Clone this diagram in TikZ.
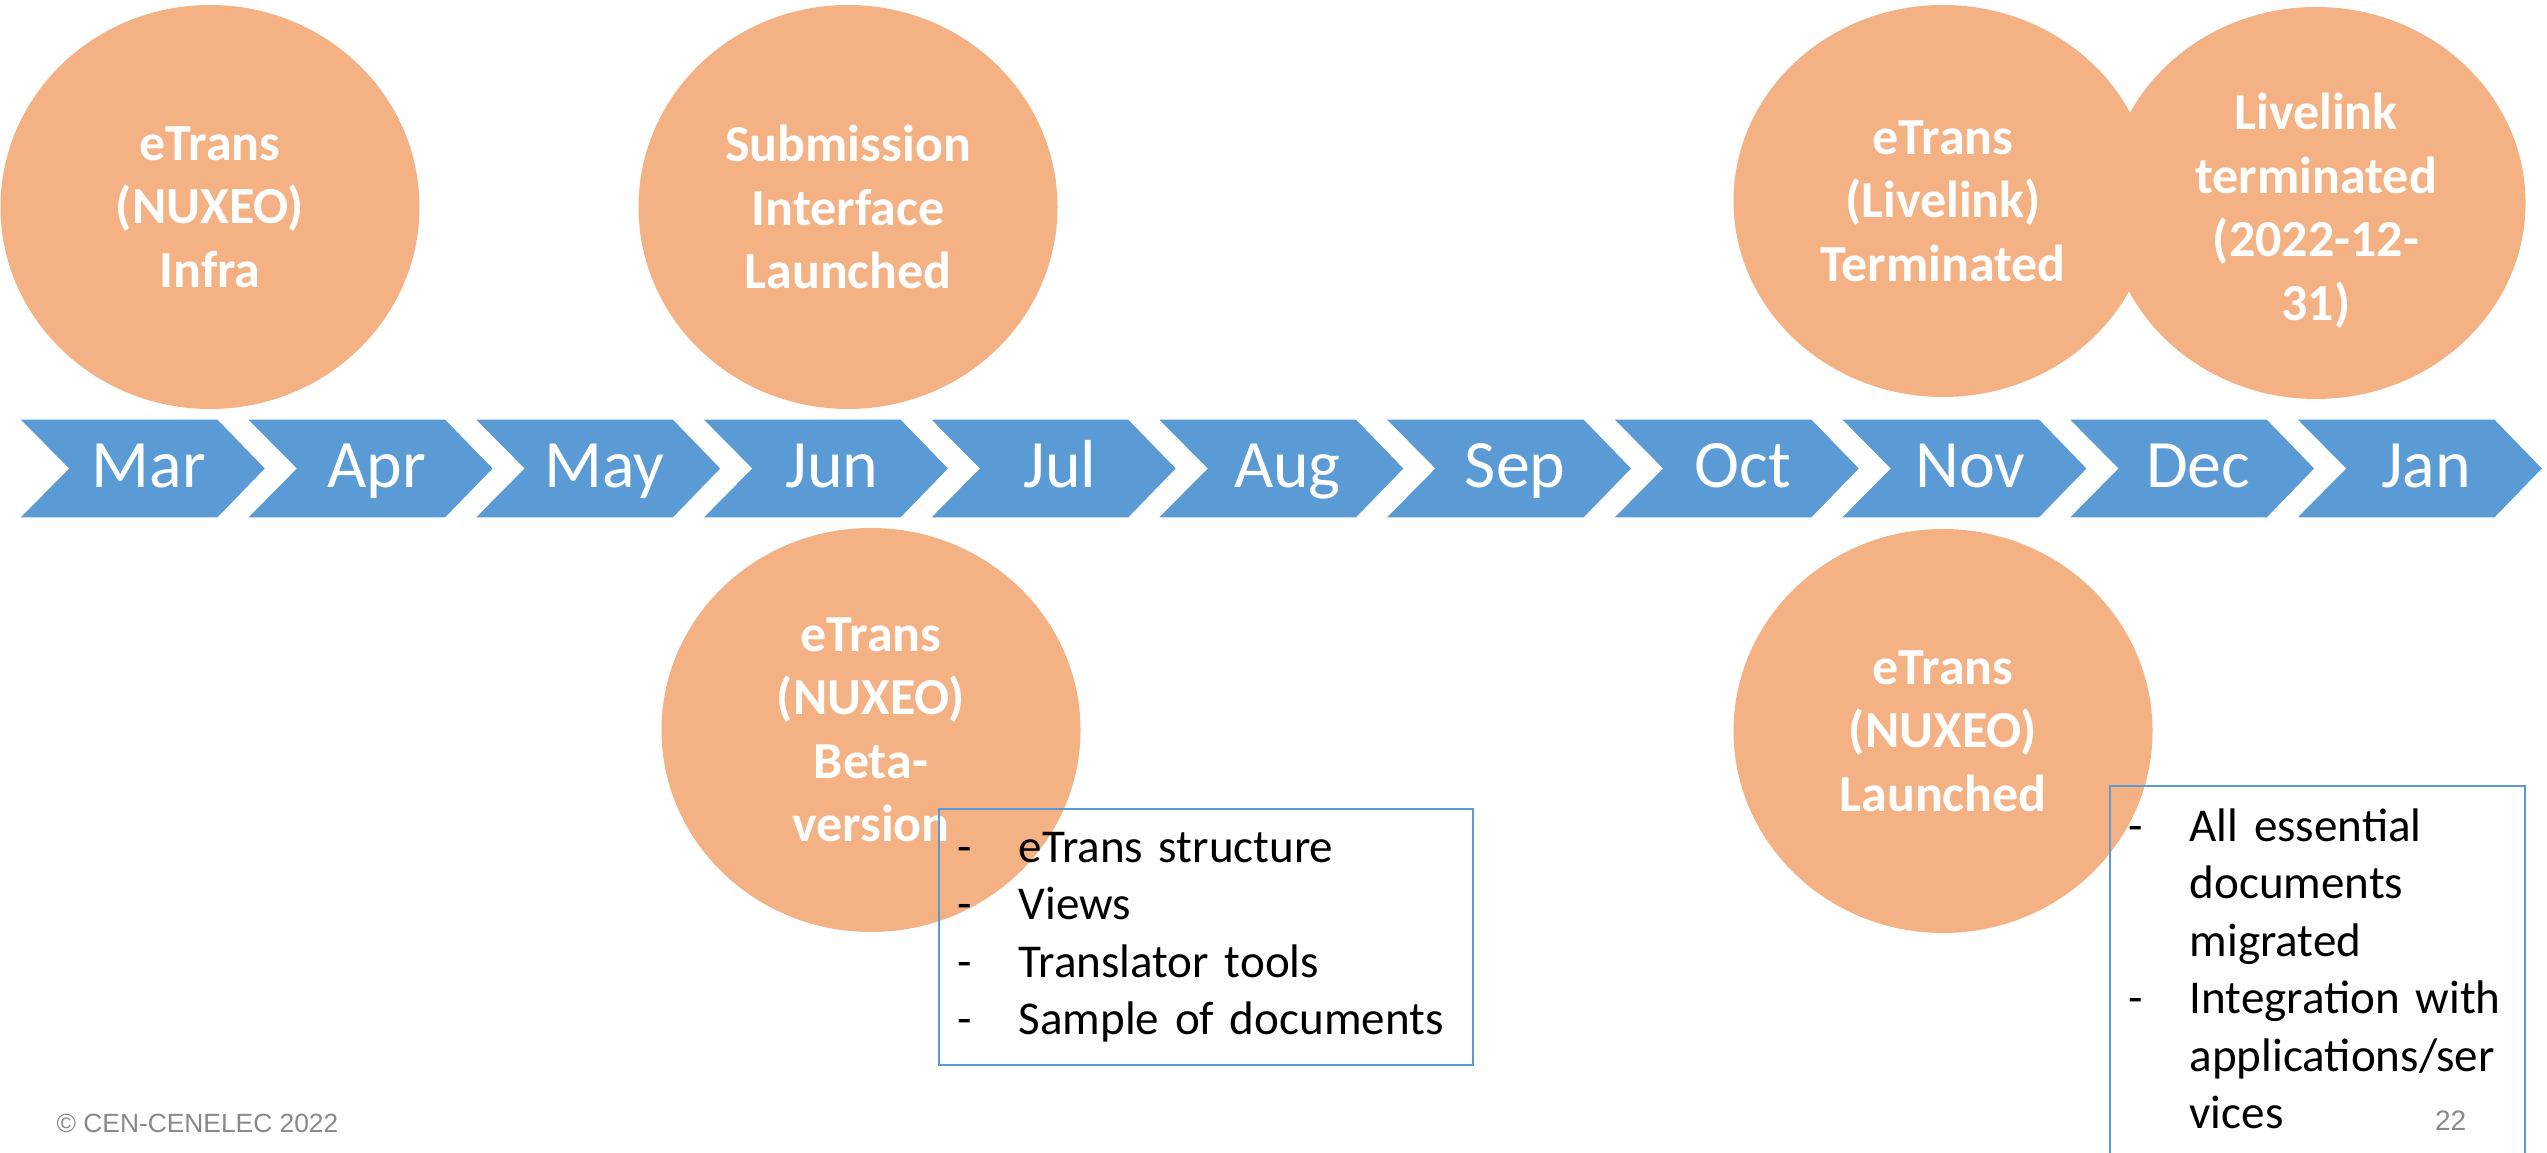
\documentclass[tikz,border=0pt]{standalone}
\usepackage{fontspec}
\setmainfont{Carlito}
\newfontfamily\footfont{Liberation Sans}
\usetikzlibrary{shapes.geometric}
\definecolor{chevblue}{HTML}{5B9BD5}
\definecolor{eventorange}{HTML}{F4B183}
\definecolor{footgray}{HTML}{898989}
\tikzstyle{event} = [ellipse, fill=eventorange, text=white, inner sep=0pt, align=center, minimum width=4.19cm, minimum height=4.04cm, font=\fontsize{14.8}{18.07}\selectfont\bfseries]
\tikzstyle{chevron} = [fill=chevblue, draw=white, line width=0.4pt]
\tikzstyle{month} = [text=white, anchor=base, inner sep=0pt, font=\fontsize{19.3}{23}\selectfont]
\tikzstyle{notebox} = [draw=chevblue, line width=0.6pt, anchor=north west, align=left, inner xsep=0.185cm, font=\fontsize{13.4}{16.36}\selectfont]
\tikzstyle{foot} = [text=footgray, inner sep=0pt, font=\footfont\fontsize{7.5}{9}\selectfont]
\newcommand{\listdash}{\strut\makebox[0.61cm][l]{-}}
\newcommand{\listgap}{\strut\hspace*{0.61cm}}

\begin{document}
\begin{tikzpicture}
  \useasboundingbox (0,0) rectangle (25.47,-11.53);
  % months
  \foreach \m [count=\i from 0] in {Mar,Apr,May,Jun,Jul,Aug,Sep,Oct,Nov,Dec,Jan} {
    \draw [chevron] (0.19+2.277*\i,-4.19) -- ++(1.99,0) -- ++(0.48,-0.495) -- ++(-0.48,-0.495) -- ++(-1.99,0) -- ++(0.49,0.495) -- cycle;
    \node (\m) [month] at (1.49+2.277*\i,-4.88) {\m};
  }
  % milestones above
  \node (etInfra) [event,xshift=2.10cm,yshift=-2.07cm] {eTrans\\(NUXEO)\\Infra};
  \node (subLaunch) [event,xshift=8.48cm,yshift=-2.07cm] {Submission\\Interface\\Launched};
  \node (etLiveTerm) [event,minimum height=3.92cm,xshift=19.43cm,yshift=-2.01cm] {eTrans\\(Livelink)\\Terminated};
  \node (liveTerm) [event,minimum height=3.92cm,xshift=23.16cm,yshift=-2.03cm] {\rule{0pt}{0.52cm}Livelink\\terminated\\(2022-12-\\31)};
  % milestones below
  \node (etBeta) [event,xshift=8.71cm,yshift=-7.30cm] {eTrans\\(NUXEO)\\Beta-\\version};
  \node (etLaunch) [event,xshift=19.43cm,yshift=-7.31cm] {eTrans\\(NUXEO)\\Launched};
  \node (betaNotes) [notebox,text width=4.97cm,inner ysep=0.13cm] at (9.38,-8.08) {\listdash eTrans structure\\\listdash Views\\\listdash Translator tools\\\listdash Sample of documents};
  \node (launchNotes) [notebox,text width=3.78cm,inner ysep=0.15cm] at (21.09,-7.85) {\listdash All essential\\\listgap documents\\\listgap migrated\\\listdash Integration~with\\\listgap applications/ser\\\listgap vices};
  % footer
  \node (copyright) [foot,anchor=base west] at (0.56,-11.32) {© CEN-CENELEC 2022};
  \node (pageno) [foot,anchor=base east,font=\footfont\fontsize{8}{9.6}\selectfont] at (24.67,-11.30) {22};
\end{tikzpicture}
\end{document}
